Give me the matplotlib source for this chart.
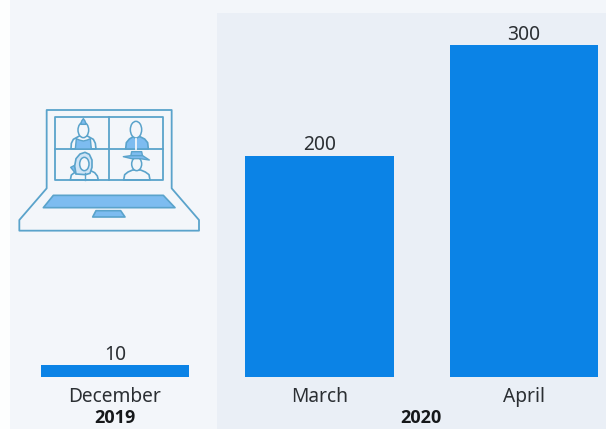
import matplotlib
matplotlib.use('Agg')
import matplotlib.pyplot as plt
from matplotlib.patches import Ellipse, Polygon, Rectangle

plt.rcParams['font.family'] = ['Noto Sans', 'DejaVu Sans']

months = ['December', 'March', 'April']
values = [10, 200, 300]
years = ['2019', '2020']

W, H = 606, 429
BAR = '#0b83e6'
TEXT = '#2b2f33'
LINE = '#5aa3cb'
FILL = '#7dbcf0'
PALE = '#f3f6fa'

fig = plt.figure(figsize=(W / 100, H / 100), dpi=100, facecolor='#fdfefe')

# ── Background panels, in pixel coordinates ───────────────────────────────────

bg = fig.add_axes([0, 0, 1, 1])
bg.set_xlim(0, W)
bg.set_ylim(H, 0)
bg.axis('off')
bg.add_patch(Rectangle((10, 0), W - 10, H, fc=PALE, ec='none'))
bg.add_patch(Rectangle((217, 13), W - 217, H - 13, fc='#eaeff6', ec='none'))

# ── Bars ──────────────────────────────────────────────────────────────────────

# one x unit is 204.5 px, the first bar is centred at 115 px, baseline at 376.5 px
ax = fig.add_axes([0, (H - 376.5) / H, 1, 376.5 / H])
ax.patch.set_alpha(0)
ax.set_xlim(-115 / 204.5, (W - 115) / 204.5)
ax.set_ylim(0, 376.5 / 1.105)
ax.axis('off')

x = range(len(months))
ax.bar(x, values, width=0.724, color=BAR)
for i, v in zip(x, values):
    ax.annotate(str(v), (i, v), xytext=(0, 0), textcoords='offset points',
                ha='center', va='bottom', fontsize=13.8, color=TEXT)

# ── Month and year labels ─────────────────────────────────────────────────────

for i, month in zip(x, months):
    bg.text(115 + 204.5 * i, 397, month, ha='center', va='center', fontsize=13.8, color=TEXT)
bg.text(115, 418, years[0], ha='center', va='center', fontsize=13,
        family='Open Sans', fontweight='bold', color='#16181a')
bg.text(421, 418, years[1], ha='center', va='center', fontsize=13,
        family='Open Sans', fontweight='bold', color='#16181a')

# ── Laptop icon ───────────────────────────────────────────────────────────────


def pt(zx, zy):
    # icon outline is laid out on a 3x grid with its origin at (0, 90)
    return zx / 3, 90 + zy / 3


def outline(points, fc='none', lw=1.2, ec=LINE, closed=True, z=3):
    bg.add_patch(Polygon([pt(*p) for p in points], closed=closed, fc=fc, ec=ec, lw=lw,
                         joinstyle='round', zorder=z))


def head(cx, cy, w, h, fc=PALE, z=4):
    bg.add_patch(Ellipse(pt(cx, cy), w / 3, h / 3, fc=fc, ec=LINE, lw=1.1, zorder=z))


def stroke(a, b, color=LINE, lw=1.1, z=4):
    bg.plot(*zip(pt(*a), pt(*b)), color=color, lw=lw, zorder=z)


outline([(140, 295), (140, 60), (515, 60), (515, 295), (597, 390), (597, 422),
         (58, 422), (58, 390)], lw=1.3)
outline([(165, 80), (490, 80), (490, 270), (165, 270)], lw=1.3)
stroke((328, 80), (328, 270), lw=1.3, z=3)
stroke((165, 177), (490, 177), lw=1.3, z=3)

outline([(160, 316), (490, 316), (525, 353), (130, 353)], fc=FILL)
outline([(288, 362), (362, 362), (375, 381), (278, 381)], fc=FILL)

# top left: figure with a crest of hair and a vest
outline([(213, 177), (214, 160), (220, 148), (238, 138), (262, 138), (280, 148),
         (286, 160), (288, 177)])
outline([(226, 177), (229, 146), (238, 150), (250, 153), (262, 150), (271, 146), (274, 177)],
        fc=FILL, lw=1.0)
head(250, 120, 32, 46)
outline([(242, 103), (245, 93), (250, 86), (255, 93), (258, 103)], fc=FILL, lw=1.0, z=5)

# top right: figure in a jacket
outline([(377, 177), (379, 158), (388, 147), (400, 140), (420, 140), (434, 147),
         (443, 158), (445, 177)], fc=FILL)
head(408, 119, 34, 50)
stroke((408, 147), (408, 177), color=PALE, lw=1.3)

# bottom left: figure with long hair
outline([(211, 270), (214, 255), (226, 246), (240, 240), (268, 240), (284, 248),
         (292, 258), (295, 270)])
outline([(212, 232), (228, 224), (228, 252)], fc=FILL, lw=1.0)
outline([(228, 252), (224, 228), (228, 206), (240, 192), (255, 187), (268, 193),
         (276, 210), (276, 232), (270, 250), (256, 254)], fc='#cfe4f6')
head(253, 222, 28, 40)
stroke((254, 250), (254, 270), lw=1.0)

# bottom right: figure in a wide-brimmed hat
outline([(371, 270), (374, 254), (384, 246), (398, 240), (422, 240), (436, 246),
         (447, 254), (450, 270)])
head(410, 222, 30, 40)
outline([(392, 200), (395, 185), (425, 185), (428, 200)], fc=FILL, lw=1.0, z=5)
outline([(370, 200), (392, 197), (428, 197), (448, 210), (420, 206), (395, 206)],
        fc=FILL, lw=1.0, z=5)

fig.savefig('out.png', dpi=100, facecolor=fig.get_facecolor())
